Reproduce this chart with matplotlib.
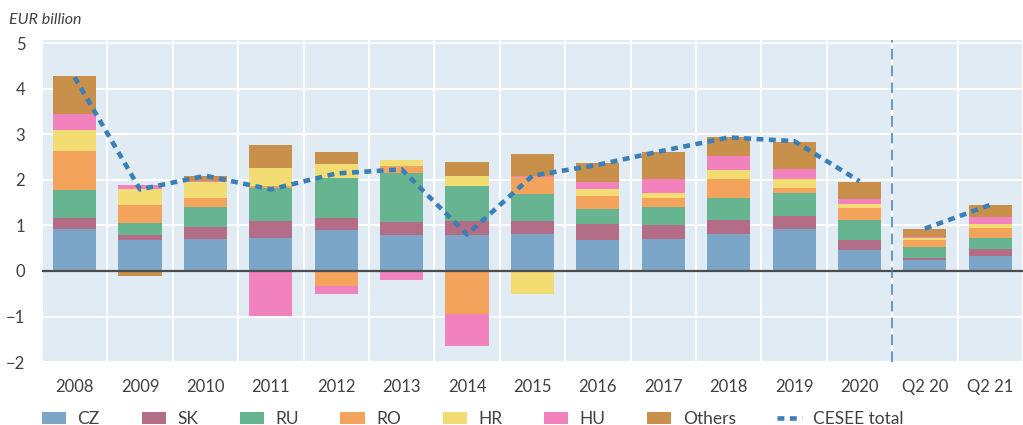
import numpy as np
import matplotlib
matplotlib.use("Agg")
import matplotlib.pyplot as plt
from matplotlib.patches import Patch
from matplotlib.lines import Line2D

plt.rcParams['font.family'] = ['Lato', 'DejaVu Sans']

# data (EUR billion)
categories = ['2008', '2009', '2010', '2011', '2012', '2013', '2014', '2015',
              '2016', '2017', '2018', '2019', '2020', 'Q2 20', 'Q2 21']
cz = [0.92, 0.67, 0.71, 0.73, 0.90, 0.80, 0.79, 0.81, 0.69, 0.70, 0.81, 0.92, 0.45, 0.23, 0.32]
sk = [0.25, 0.12, 0.26, 0.37, 0.265, 0.277, 0.30, 0.29, 0.34, 0.30, 0.30, 0.29, 0.22, 0.065, 0.17]
ru = [0.615, 0.26, 0.43, 0.73, 0.885, 1.077, 0.77, 0.59, 0.32, 0.41, 0.50, 0.50, 0.45, 0.235, 0.235]
ro = [0.857, 0.40, 0.20, 0.045, -0.33, 0.146, -0.94, 0.37, 0.30, 0.19, 0.41, 0.11, 0.265, 0.16, 0.215]
hr = [0.455, 0.345, 0.355, 0.38, 0.29, 0.125, 0.235, -0.505, 0.145, 0.11, 0.20, 0.20, 0.085, 0.035, 0.10]
hu = [0.345, 0.10, 0.02, -0.99, -0.18, -0.19, -0.715, 0.035, 0.165, 0.31, 0.31, 0.21, 0.105, 0.015, 0.14]
others = [0.83, -0.12, 0.11, 0.50, 0.275, 0.0, 0.30, 0.47, 0.41, 0.60, 0.40, 0.59, 0.38, 0.18, 0.26]
cesee_total = [4.25, 1.79, 2.09, 1.79, 2.14, 2.23, 0.80, 2.09, 2.33, 2.64, 2.93, 2.85, 1.97, 0.93, 1.45]

series = [('CZ', cz, '#7ba6c8'), ('SK', sk, '#b36d86'), ('RU', ru, '#67b590'),
          ('RO', ro, '#f3a35b'), ('HR', hr, '#f3dc71'), ('HU', hu, '#f282be'),
          ('Others', others, '#c8904b')]
line_color = '#3a7fb8'
text_color = '#404040'

fig = plt.figure(figsize=(10.23, 4.25), dpi=100)
ax = fig.add_axes([0.041, 0.148, 0.959, 0.758])
ax.set_facecolor('#e1ebf4')

x = np.arange(len(categories))
pos_base = np.zeros(len(x))
neg_base = np.zeros(len(x))
for name, vals, col in series:
    v = np.array(vals)
    bottom = np.where(v >= 0, pos_base, neg_base)
    ax.bar(x, v, 0.66, bottom=bottom, color=col, zorder=3)
    pos_base += np.where(v >= 0, v, 0)
    neg_base += np.where(v < 0, v, 0)

# annual total and quarterly total drawn separately
ax.plot(x[:13], cesee_total[:13], color=line_color, lw=3.3, dashes=(1.5, 1.2), zorder=4)
ax.plot(x[13:], cesee_total[13:], color=line_color, lw=3.3, dashes=(1.5, 1.2), zorder=4)

ax.axhline(0, color='#4d4d4d', lw=1.6, zorder=5)
ax.axvline(12.5, color=line_color, lw=1.1, dashes=(7, 4), zorder=5)

ax.set_xlim(-0.5, 14.37)
ax.set_ylim(-2, 5.07)
ax.set_yticks(range(-2, 6))
ax.set_xticks(x)
ax.set_xticklabels(categories)
ax.set_xticks(np.arange(-0.5, 15, 1), minor=True)
ax.grid(axis='y', color='white', lw=1.5, zorder=1)
ax.grid(axis='x', which='minor', color='white', lw=1.5, zorder=1)
ax.tick_params(which='both', length=0, labelsize=12, colors=text_color)
ax.tick_params(axis='x', pad=12)
ax.tick_params(axis='y', pad=12)
for s in ax.spines.values():
    s.set_visible(False)

fig.text(0.009, 0.953, 'EUR billion', style='italic', fontsize=11.5, color=text_color, va='center')

handles = [Patch(facecolor=col, label=name) for name, vals, col in series]
handles.append(Line2D([0], [0], color=line_color, lw=3.3, dashes=(1.5, 1.2), label='CESEE total'))
fig.legend(handles=handles, loc='center left', bbox_to_anchor=(42 / 1023, 1 - 419 / 425), ncol=8,
           frameon=False, fontsize=12.5, handlelength=1.4, handleheight=0.7,
           columnspacing=2.4, handletextpad=0.65, borderpad=0, borderaxespad=0,
           labelcolor=text_color)

fig.savefig('out.png', dpi=100)
